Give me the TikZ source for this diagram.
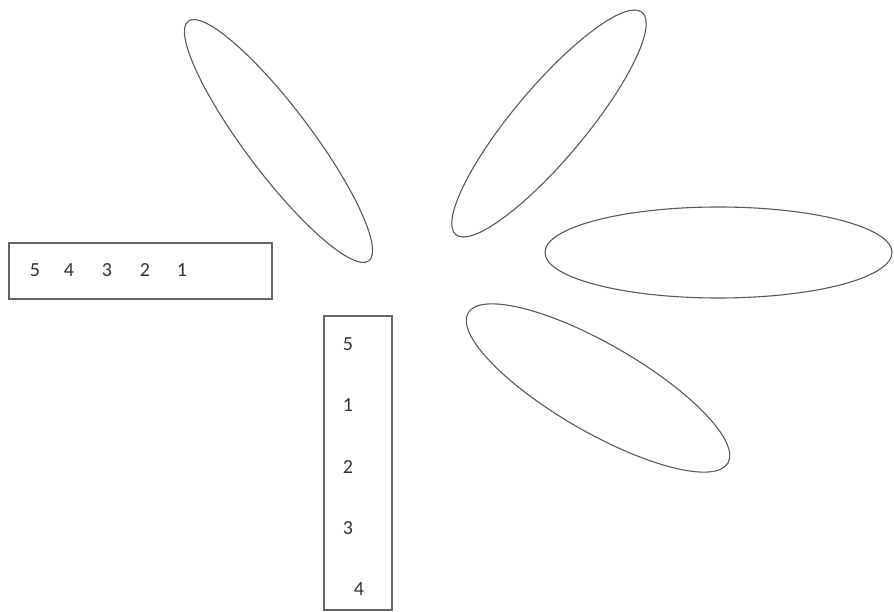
\documentclass[tikz,border=0pt]{standalone}
\usepackage{fontspec}
\setmainfont{Carlito}
\begin{document}
\begin{tikzpicture}[x=1pt,y=-1pt,
  outline/.style={draw=black!65,line width=1.1pt},
  boxline/.style={draw=black!60,line width=1.2pt},
  digit/.style={font=\fontsize{20}{20}\selectfont,text=black!80,inner sep=0pt,anchor=center}]
\useasboundingbox (0,0) rectangle (894,612);
% ellipses
\draw[outline,rotate around={-53:(278.5,141)}] (278.5,141) ellipse [x radius=150,y radius=33];
\draw[outline,rotate around={50:(549,123.5)}] (549,123.5) ellipse [x radius=145,y radius=36];
\draw[outline] (718.5,252.5) ellipse [x radius=173.5,y radius=45.5];
\draw[outline,rotate around={-30:(598,388)}] (598,388) ellipse [x radius=150,y radius=44];
% horizontal box
\node[boxline,minimum width=263pt,minimum height=56pt,inner sep=0pt] (hbox) at (140.5,271) {};
\node[digit] (h5) at (35,270) {5};
\node[digit] (h4) at (69,270) {4};
\node[digit] (h3) at (107,270) {3};
\node[digit] (h2) at (145,270) {2};
\node[digit] (h1) at (182,270) {1};
% vertical box
\node[boxline,minimum width=68pt,minimum height=294pt,inner sep=0pt] (vbox) at (358,463) {};
\node[digit] (v5) at (348,344) {5};
\node[digit] (v1) at (348,405) {1};
\node[digit] (v2) at (348,467) {2};
\node[digit] (v3) at (348,528) {3};
\node[digit] (v4) at (359,589) {4};
\end{tikzpicture}
\end{document}
